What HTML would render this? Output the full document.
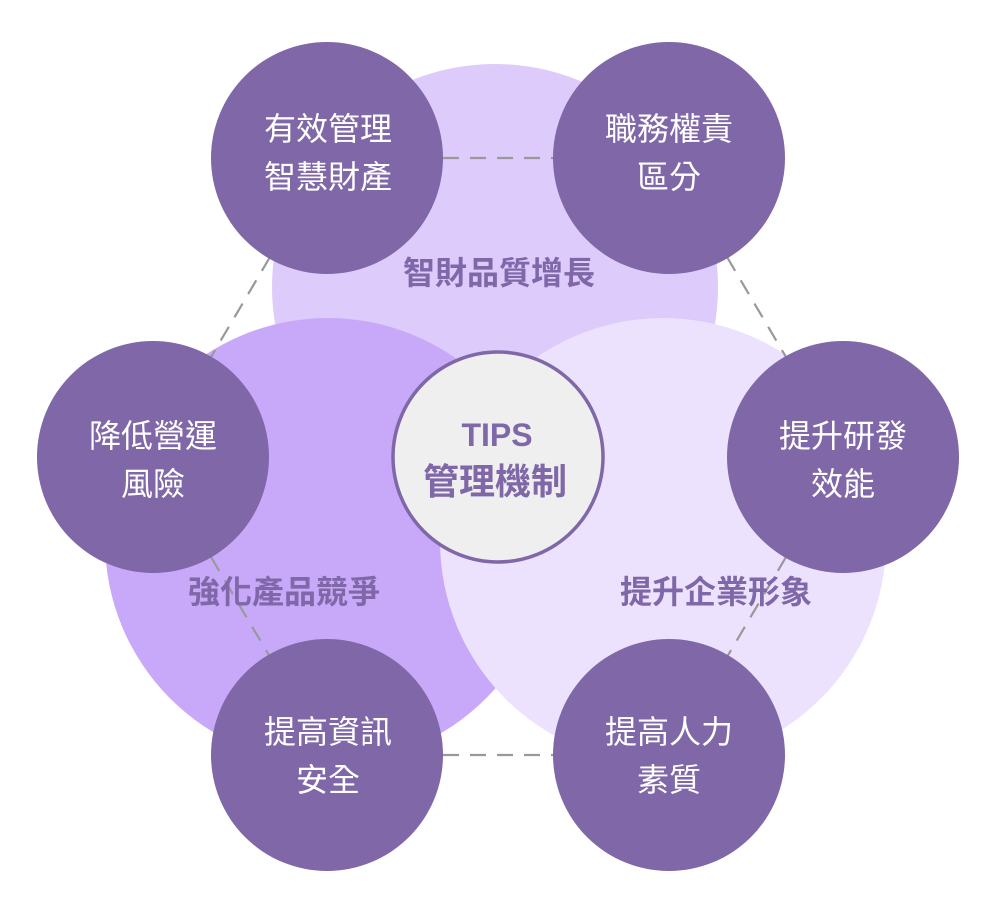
<!DOCTYPE html>
<html><head><meta charset="utf-8"><style>
html,body{margin:0;padding:0;background:#fff;}
svg{display:block;}
text{font-family:"Liberation Sans","Noto Sans CJK TC",sans-serif;}
</style></head><body>
<svg width="1000" height="905" viewBox="0 0 1000 905" xmlns="http://www.w3.org/2000/svg">
<rect width="1000" height="905" fill="#fff"/>
<circle cx="495" cy="287" r="223" fill="#dccbfb"/>
<circle cx="328" cy="541" r="223" fill="#c8a9f9"/>
<circle cx="663" cy="541" r="223" fill="#ece2fd"/>
<g stroke="#999" stroke-width="2.2" stroke-dasharray="16,11" fill="none">
<line x1="443" y1="158" x2="553" y2="158"/>
<line x1="443" y1="755" x2="553" y2="755"/>
<line x1="270" y1="257" x2="211" y2="357"/>
<line x1="211" y1="557" x2="270" y2="657"/>
<line x1="727" y1="257" x2="786" y2="357"/>
<line x1="786" y1="557" x2="727" y2="657"/>
</g>
<g fill="#7f67a8">
<circle cx="327" cy="158" r="116"/>
<circle cx="669" cy="158" r="116"/>
<circle cx="153" cy="457" r="116"/>
<circle cx="843" cy="457" r="116"/>
<circle cx="327" cy="755" r="116"/>
<circle cx="669" cy="755" r="116"/>
</g>
<circle cx="498" cy="457" r="105" fill="#efefef" stroke="#7f67a8" stroke-width="3.5"/>
<g fill="#fff" font-size="32" text-anchor="middle">
<text x="328" y="140">有效管理</text><text x="328" y="188">智慧財產</text>
<text x="669" y="140">職務權責</text><text x="669" y="188">區分</text>
<text x="153" y="447">降低營運</text><text x="153" y="495">風險</text>
<text x="843" y="447">提升研發</text><text x="843" y="495">效能</text>
<text x="328" y="743">提高資訊</text><text x="328" y="791">安全</text>
<text x="669" y="743">提高人力</text><text x="669" y="791">素質</text>
</g>
<g fill="#7f67a8" font-weight="bold" text-anchor="middle">
<text x="497" y="446" font-size="32">TIPS</text>
<text x="495" y="494" font-size="36">管理機制</text>
<text x="499" y="284" font-size="32">智財品質增長</text>
<text x="284" y="603" font-size="32">強化產品競爭</text>
<text x="716" y="603" font-size="32">提升企業形象</text>
</g>
</svg>
</body></html>
